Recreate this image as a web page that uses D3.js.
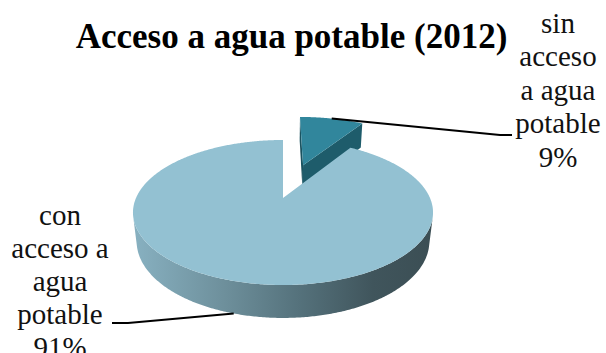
<!DOCTYPE html>
<html>
<head>
<meta charset="utf-8">
<script src="https://cdn.jsdelivr.net/npm/d3@7"></script>
<style>
  html, body { margin: 0; padding: 0; background: #fff; }
  svg { display: block; }
  .lbl { font-family: "Liberation Serif", "DejaVu Serif", serif; font-size: 29px; fill: #111; }
  .ttl { font-family: "Liberation Serif", "DejaVu Serif", serif; font-size: 35px; font-weight: bold; fill: #000; }
</style>
</head>
<body>
<svg id="chart" width="606" height="353"></svg>
<script>
// ---- data ----
const categories = ["sin acceso a agua potable", "con acceso a agua potable"];
const values = [9, 91];
const nameLines = [["sin", "acceso", "a agua", "potable"], ["con", "acceso a", "agua", "potable"]];
const chartTitle = "Acceso a agua potable (2012)";

// ---- 3D pie view (perspective) ----
const cx = 283, cy = 198;          // screen position of pie centre
const R = 1, thickness = 0.226;    // disc radius and height (world units)
const tilt = Math.asin(0.4735);
const sT = Math.sin(tilt), cT = Math.cos(tilt);
const camD = 5 * R * cT, focal = 735 * cT;
const explode = [0.54, 0];         // slice offset, fraction of radius

function project(X, Y, Z) {
  const yc = Y * cT - Z * sT;
  const dz = camD - (Y * sT + Z * cT);
  return [cx + focal * X / dz, cy - focal * yc / dz];
}
// facing test against the camera position
const cam = [0, camD * sT, camD * cT];
function facing(P, n) {
  return (cam[0] - P[0]) * n[0] + (cam[1] - P[1]) * n[1] + (cam[2] - P[2]) * n[2] > 0;
}

const svg = d3.select("#chart");
const defs = svg.append("defs");
const grad = defs.append("linearGradient")
  .attr("id", "rimShade").attr("gradientUnits", "userSpaceOnUse")
  .attr("x1", 133).attr("y1", 0).attr("x2", 433).attr("y2", 0);
[[0, "#88B1C1"], [0.3, "#6E909C"], [0.55, "#55727C"], [0.8, "#40555C"], [1, "#3B4E54"]]
  .forEach(([o, c]) => grad.append("stop").attr("offset", o).attr("stop-color", c));

const topColors = ["#31869C", "#93C1D2"];
const rimFills = ["#1F5E6D", "url(#rimShade)"];
const sideColors = ["#1E5C6B", "#3F565E"];

const pie = d3.pie().sort(null).value(d => d);
const arcs = pie(values);
const total = d3.sum(values);
const pct = d3.format(".0%");
const line = d3.line();

const slices = arcs.map((a, i) => {
  const mid = (a.startAngle + a.endAngle) / 2;
  const e = explode[i] * R;
  return { a, i, ex: e * Math.sin(mid), ez: -e * Math.cos(mid), mid };
});

function rimPoint(s, ang, Y) {
  return [s.ex + R * Math.sin(ang), Y, s.ez - R * Math.cos(ang)];
}

const g = svg.append("g");

// far slice first, then the near one
slices.forEach(s => {
  const { a } = s;
  const steps = Math.max(8, Math.ceil((a.endAngle - a.startAngle) / 0.01));
  const angs = d3.range(steps + 1).map(k => a.startAngle + (a.endAngle - a.startAngle) * k / steps);
  const apexTop = [s.ex, 0, s.ez], apexBot = [s.ex, -thickness, s.ez];

  // radial cut faces
  [[a.startAngle, -1], [a.endAngle, 1]].forEach(([ang, sign]) => {
    const n = [sign * Math.cos(ang), 0, sign * Math.sin(ang)];
    if (!facing(apexTop, n)) return;
    if (a.endAngle - a.startAngle >= 2 * Math.PI - 1e-6) return;
    const quad = [apexTop, rimPoint(s, ang, 0), rimPoint(s, ang, -thickness), apexBot].map(p => project(...p));
    g.append("path").attr("d", line(quad) + "Z")
      .attr("fill", sign > 0 ? sideColors[s.i] : d3.color(sideColors[s.i]).darker(0.3));
  });

  // outer rim: contiguous runs of camera-facing segments
  let run = [];
  const runs = [];
  angs.forEach(ang => {
    const P = rimPoint(s, ang, 0);
    const n = [Math.sin(ang), 0, -Math.cos(ang)];
    if (facing(P, n)) run.push(ang);
    else if (run.length) { runs.push(run); run = []; }
  });
  if (run.length) runs.push(run);
  runs.forEach(r => {
    if (r.length < 2) return;
    const pts = r.map(ang => project(...rimPoint(s, ang, 0)))
      .concat(r.slice().reverse().map(ang => project(...rimPoint(s, ang, -thickness))));
    g.append("path").attr("d", line(pts) + "Z").attr("fill", rimFills[s.i]);
  });

  // top face
  const top = [project(...apexTop)].concat(angs.map(ang => project(...rimPoint(s, ang, 0))));
  g.append("path").attr("d", line(top) + "Z").attr("fill", topColors[s.i]);
});

// ---- labels with leader lines ----
const labelPos = [
  { x: 558, y: 32.5, step: 33.6, leader: [[500, 135], [512, 135]] },
  { x: 60, y: 225, step: 33, leader: [[128, 323], [112, 323]] }
];

slices.forEach(s => {
  const lp = labelPos[s.i];
  // anchor on the rim at the slice's mid angle: bottom edge if that rim faces the viewer
  const Ptop = rimPoint(s, s.mid, 0);
  const nMid = [Math.sin(s.mid), 0, -Math.cos(s.mid)];
  const anchor = facing(Ptop, nMid) ? project(...rimPoint(s, s.mid, -thickness)) : project(...Ptop);
  svg.append("path")
    .attr("d", line([anchor].concat(lp.leader)))
    .attr("fill", "none").attr("stroke", "#000").attr("stroke-width", 2);

  const lines = nameLines[s.i].concat([pct(values[s.i] / total)]);
  const t = svg.append("text").attr("class", "lbl").attr("text-anchor", "middle");
  lines.forEach((txt, k) => {
    t.append("tspan").attr("x", lp.x).attr("y", lp.y + k * lp.step).text(txt);
  });
});

// ---- title ----
svg.append("text").attr("class", "ttl")
  .attr("x", 291.5).attr("y", 48)
  .attr("text-anchor", "middle")
  .text(chartTitle);
</script>
</body>
</html>
